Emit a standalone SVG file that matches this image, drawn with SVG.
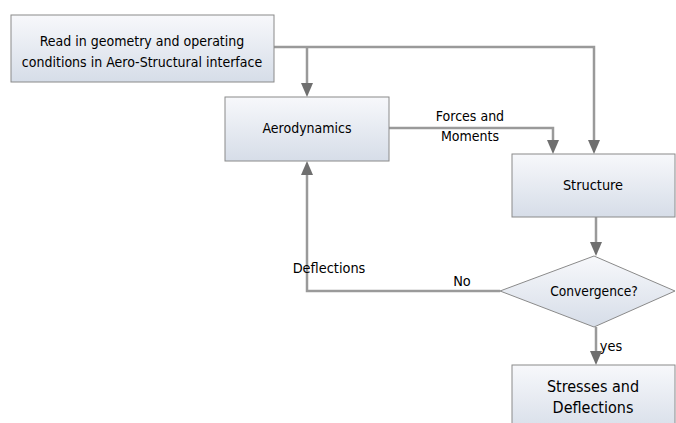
<svg xmlns="http://www.w3.org/2000/svg" width="676" height="423" viewBox="0 0 676 423">
<defs>
<linearGradient id="g" x1="0" y1="0" x2="0" y2="1">
<stop offset="0" stop-color="#f7f8fb"/>
<stop offset="1" stop-color="#d6dde8"/>
</linearGradient>
<style>
.box{fill:url(#g);stroke:#8a8a8a;stroke-width:1}
.t{font-family:"DejaVu Sans Condensed","DejaVu Sans",sans-serif;font-size:14.4px;fill:#000;text-anchor:middle;dominant-baseline:middle}
.c{fill:none;stroke:#9a9a9a;stroke-width:2.5}
.ah{fill:#6f6f6f}
</style>
</defs>
<rect width="676" height="423" fill="#fff"/>
<g id="connectors">
<polyline class="c" points="274,47 594,47 594,142"/>
<polyline class="c" points="307,47 307,84"/>
<polyline class="c" points="389,128 553,128 553,142"/>
<polyline class="c" points="596,217 596,243"/>
<polyline class="c" points="500,291 307,291 307,174"/>
<polyline class="c" points="596,327 596,352"/>
<path class="ah" d="M588,140 L600,140 L594,154 Z"/>
<path class="ah" d="M301,83 L313,83 L307,97 Z"/>
<path class="ah" d="M547,140 L559,140 L553,154 Z"/>
<path class="ah" d="M590,242 L602,242 L596,256 Z"/>
<path class="ah" d="M301,175 L313,175 L307,161 Z"/>
<path class="ah" d="M590,351 L602,351 L596,365 Z"/>
<text class="t" x="470" y="117" style="font-size:14px">Forces and</text>
<text class="t" x="470" y="137" style="font-size:14px">Moments</text>
<text class="t" x="329" y="269">Deflections</text>
<text class="t" x="462" y="282">No</text>
<text class="t" x="611" y="347">yes</text>
</g>
<g id="read">
<rect class="box" x="11" y="15" width="263" height="67"/>
<text class="t" x="142" y="42" style="font-size:14px">Read in geometry and operating</text>
<text class="t" x="142" y="63" style="font-size:14px">conditions in Aero-Structural interface</text>
</g>
<g id="aero">
<rect class="box" x="225" y="97" width="164" height="64"/>
<text class="t" x="307" y="129" style="font-size:14px">Aerodynamics</text>
</g>
<g id="structure">
<rect class="box" x="512" y="154" width="163" height="63"/>
<text class="t" x="593" y="186">Structure</text>
</g>
<g id="convergence">
<polygon class="box" points="500,291 594,256 675,291 594,327"/>
<text class="t" x="594" y="292" style="font-size:13.7px">Convergence?</text>
</g>
<g id="stresses">
<rect class="box" x="512" y="365" width="163" height="70"/>
<text class="t" x="593" y="387" style="font-size:16px">Stresses and</text>
<text class="t" x="593" y="408" style="font-size:16px">Deflections</text>
</g>
</svg>
